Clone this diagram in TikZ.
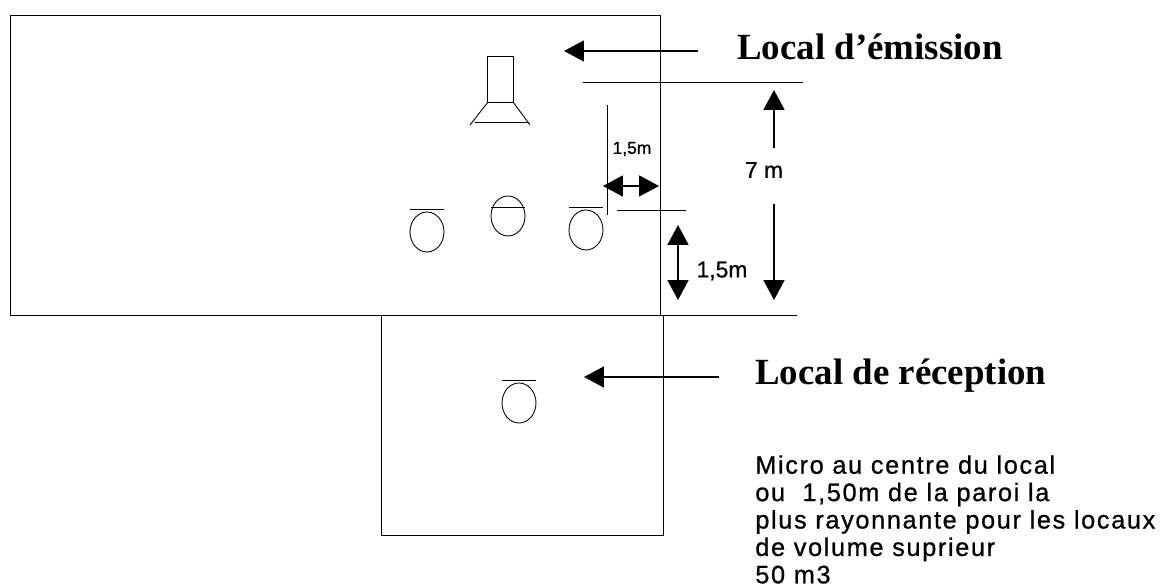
\documentclass[tikz,border=0pt]{standalone}
\usepackage{fontspec}
\setmainfont{Liberation Serif}
\newfontfamily\cotefont[FakeBold=0.8]{Liberation Sans}
\newfontfamily\notefont[LetterSpace=6.5,FakeBold=0.8]{Liberation Sans}
\usetikzlibrary{arrows.meta}
\tikzset{
  mur/.style={line width=0.5pt},
  fleche/.style={line width=1pt,-{Triangle[length=0.4cm,width=0.42cm]}},
  titre/.style={font=\fontsize{21}{25}\selectfont\bfseries,inner sep=0pt,anchor=west},
  cote/.style={font=\cotefont\fontsize{13}{15}\selectfont,inner sep=0pt}
}
\begin{document}
\begin{tikzpicture}[x=0.02cm,y=-0.02cm]
\useasboundingbox (0,0) rectangle (1161,587);
% les deux locaux
\draw[mur] (10,15) rectangle (660,315);
\draw[mur] (381,315) rectangle (663,535);
\draw[mur] (663,315)--(797,315);
% la source
\draw[mur] (487,56) rectangle (513,102);
\draw[mur] (488,102)--(470,125);
\draw[mur] (513,102)--(530,125);
\draw[mur] (475,122)--(529,122);
% les micros
\foreach \x/\y/\t in {427/232/209,508/216/207,586/230/207,519/403/380}
{
\draw[mur] (\x,\y) ellipse (17 and 20);
\draw[mur] (\x-17,\t)--(\x+17,\t);
}
% lignes de cote
\draw[mur] (583,82)--(803,82);
\draw[mur] (607,105)--(607,215);
\draw[mur] (617,210)--(686,210);
% textes
\node[titre] (emission) at (737,47) {Local d’émission};
\node[titre] (reception) at (755,376) {Local de réception};
\node[cote,font=\cotefont\fontsize{9.9}{11}\selectfont] (petit) at (632,149) {1,5m};
\node[cote] (sept) at (764,170) {7 m};
\node[cote] (haut) at (722,271) {1,5m};
\node[cote,font=\notefont\fontsize{14.4}{15.6}\selectfont,anchor=north west,align=left] (micro) at (755,455) {Micro au centre du local\\ou\ \ 1,50m de la paroi la\\plus rayonnante pour les locaux\\de volume suprieur\\50 m3};
% les fleches
\coordinate (a1) at (698,51);
\coordinate (a2) at (564,51);
\coordinate (b1) at (719,377);
\coordinate (b2) at (584,377);
\coordinate (c1) at (633,186);
\coordinate (c2) at (603,186);
\coordinate (c3) at (659,186);
\coordinate (d1) at (678,262);
\coordinate (d2) at (678,225);
\coordinate (d3) at (678,300);
\coordinate (e1) at (774,148);
\coordinate (e2) at (774,90);
\coordinate (e3) at (774,204);
\coordinate (e4) at (774,300);
\draw[fleche] (a1)--(a2);
\draw[fleche] (b1)--(b2);
\draw[fleche] (c1)--(c2);
\draw[fleche] (c1)--(c3);
\draw[fleche] (d1)--(d2);
\draw[fleche] (d1)--(d3);
\draw[fleche] (e1)--(e2);
\draw[fleche] (e3)--(e4);
\end{tikzpicture}
\end{document}
